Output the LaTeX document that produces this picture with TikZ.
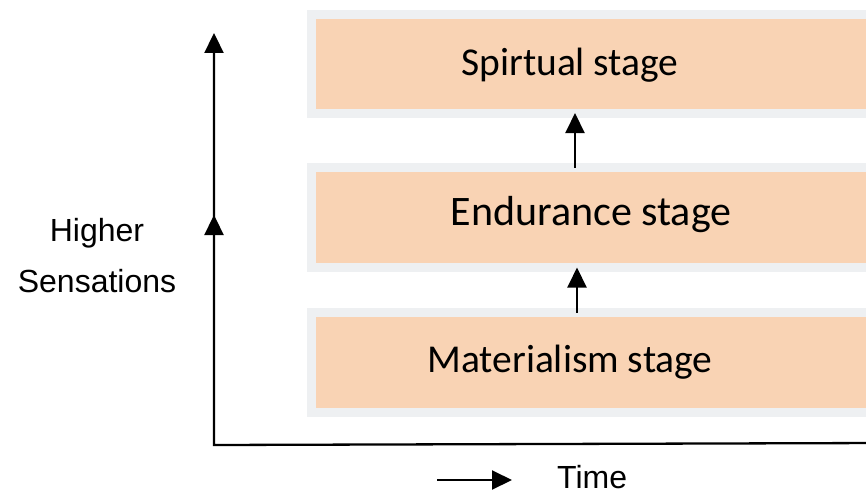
\documentclass[tikz,border=0pt]{standalone}
\usepackage{fontspec}
\setmainfont{Carlito}
\newfontfamily\arialfont{Liberation Sans}
\usetikzlibrary{arrows.meta,positioning}
\definecolor{stagepeach}{HTML}{F9D3B4}
\definecolor{stagerim}{HTML}{EEF0F2}
\tikzset{
  >={Triangle[length=20pt,width=19pt]},
  % stadier
  stagebox/.style={rectangle,fill=stagepeach,draw=stagerim,line width=9pt,
             outer sep=0pt,minimum width=620pt,anchor=west},
  stagetxt/.style={font=\fontsize{39.5}{48}\selectfont,inner sep=0pt,anchor=base},
  % axlar
  axis/.style={draw=black,line width=2.3pt},
  up/.style={->,draw=black,line width=2pt},
}
\begin{document}
\begin{tikzpicture}[x=1pt,y=-1pt]
  \path[use as bounding box,clip] (0,0) rectangle (866,495);
  \node[stagebox,minimum height=98pt] (spirbox) at (311,64) {};
  \node[stagebox,minimum height=100pt] (endbox) at (311,217.5) {};
  \node[stagebox,minimum height=100pt] (matbox) at (311,362.5) {};
  \node[stagetxt] (spir) at (570,75) {Spirtual stage};
  \node[stagetxt,font=\fontsize{42}{50}\selectfont] (endu) at (591,225) {Endurance stage};
  \node[stagetxt] (mat) at (570,372) {Materialism stage};
  \coordinate (s1) at (575,0); \coordinate (s2) at (577,0);
  \draw[up] (endbox.north -| s1) -- (spirbox.south -| s1);
  \draw[up] (matbox.north -| s2) -- (endbox.south -| s2);
  % axlar
  \coordinate (origin) at (214,445);
  \coordinate (ytop) at (214,33);
  \coordinate (ymid) at (214,215);
  \coordinate (xend) at (880,443);
  \draw[axis,<-] (ytop) -- (origin) -- (xend);
  \draw[axis,->] (origin) -- (ymid);
  \node[font=\arialfont\fontsize{32}{51}\selectfont,align=center,inner sep=0pt] (hs) at (97,256) {Higher\\Sensations};
  \node[font=\arialfont\fontsize{32}{38}\selectfont,inner sep=0pt,anchor=base west] (time) at (557,488) {Time};
  \coordinate (tstart) at (437,480);
  \draw[up,shorten >=45pt] (tstart) -- (tstart -| time.west);
\end{tikzpicture}
\end{document}
